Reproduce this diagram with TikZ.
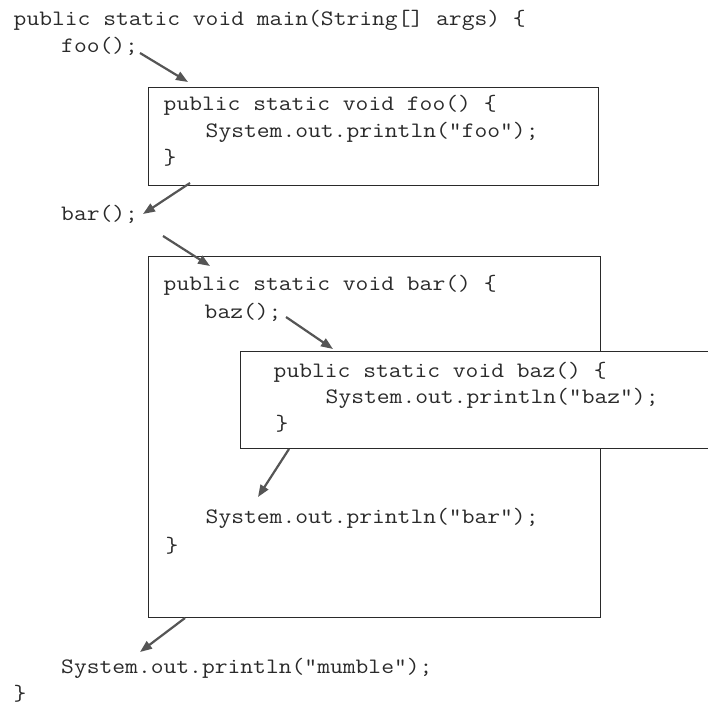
\documentclass[tikz,border=0pt]{standalone}
\usepackage{fontspec}
\setmonofont[FakeStretch=1.13]{Latin Modern Mono}
\usetikzlibrary{arrows.meta}
\definecolor{ink}{HTML}{2a2a2a}
\definecolor{arr}{HTML}{555555}
\tikzset{
  code/.style={anchor=base west, inner sep=0pt, text=ink, font=\ttfamily\fontsize{22}{26}\selectfont},
  frame/.style={draw=ink, line width=1.1pt, fill=white, anchor=north west, inner sep=0pt},
  flow/.style={draw=arr, line width=2.2pt, -{Triangle[length=12pt,width=9pt]}, shorten >=0pt}
}
\begin{document}
\begin{tikzpicture}[x=1pt,y=-1pt]
\useasboundingbox (0,0) rectangle (708,707);
% boxes
\node[frame, minimum width=450pt, minimum height=98pt] (foobox) at (148,87) {};
\node[frame, minimum width=452pt, minimum height=361pt] (barbox) at (148,256) {};
\node[frame, minimum width=480pt, minimum height=97pt] (bazbox) at (240,351) {};
% code lines
\node[code] (l1) at (13.5,25) {public static void main(String[] args) \{};
\node[code] (l2) at (61,52) {foo();};
\node[code] (f1) at (163.5,110) {public static void foo() \{};
\node[code] (f2) at (205.5,137) {System.out.println("foo");};
\node[code] (f3) at (163.5,164) {\}};
\node[code] (l3) at (61,220) {bar();};
\node[code] (b1) at (163.5,290) {public static void bar() \{};
\node[code] (b2) at (204.5,318) {baz();};
\node[code] (z1) at (273.5,377) {public static void baz() \{};
\node[code] (z2) at (325.5,403) {System.out.println("baz");};
\node[code] (z3) at (275.5,430) {\}};
\node[code] (b3) at (205.5,523) {System.out.println("bar");};
\node[code] (b4) at (165.5,552) {\}};
\node[code] (l4) at (61,673) {System.out.println("mumble");};
\node[code] (l5) at (13.5,700) {\}};
% arrow end points
\coordinate (a1s) at (140,53);  \coordinate (a1e) at (188,82);
\coordinate (a2s) at (190,183); \coordinate (a2e) at (143,214);
\coordinate (a3s) at (163,236); \coordinate (a3e) at (210,266);
\coordinate (a4s) at (286,317); \coordinate (a4e) at (333,349);
\coordinate (a5s) at (289,449); \coordinate (a5e) at (258,497);
\coordinate (a6s) at (185,618); \coordinate (a6e) at (140,652);
\draw[flow] (a1s) -- (a1e);
\draw[flow] (a2s) -- (a2e);
\draw[flow] (a3s) -- (a3e);
\draw[flow] (a4s) -- (a4e);
\draw[flow] (a5s) -- (a5e);
\draw[flow] (a6s) -- (a6e);
\end{tikzpicture}
\end{document}
